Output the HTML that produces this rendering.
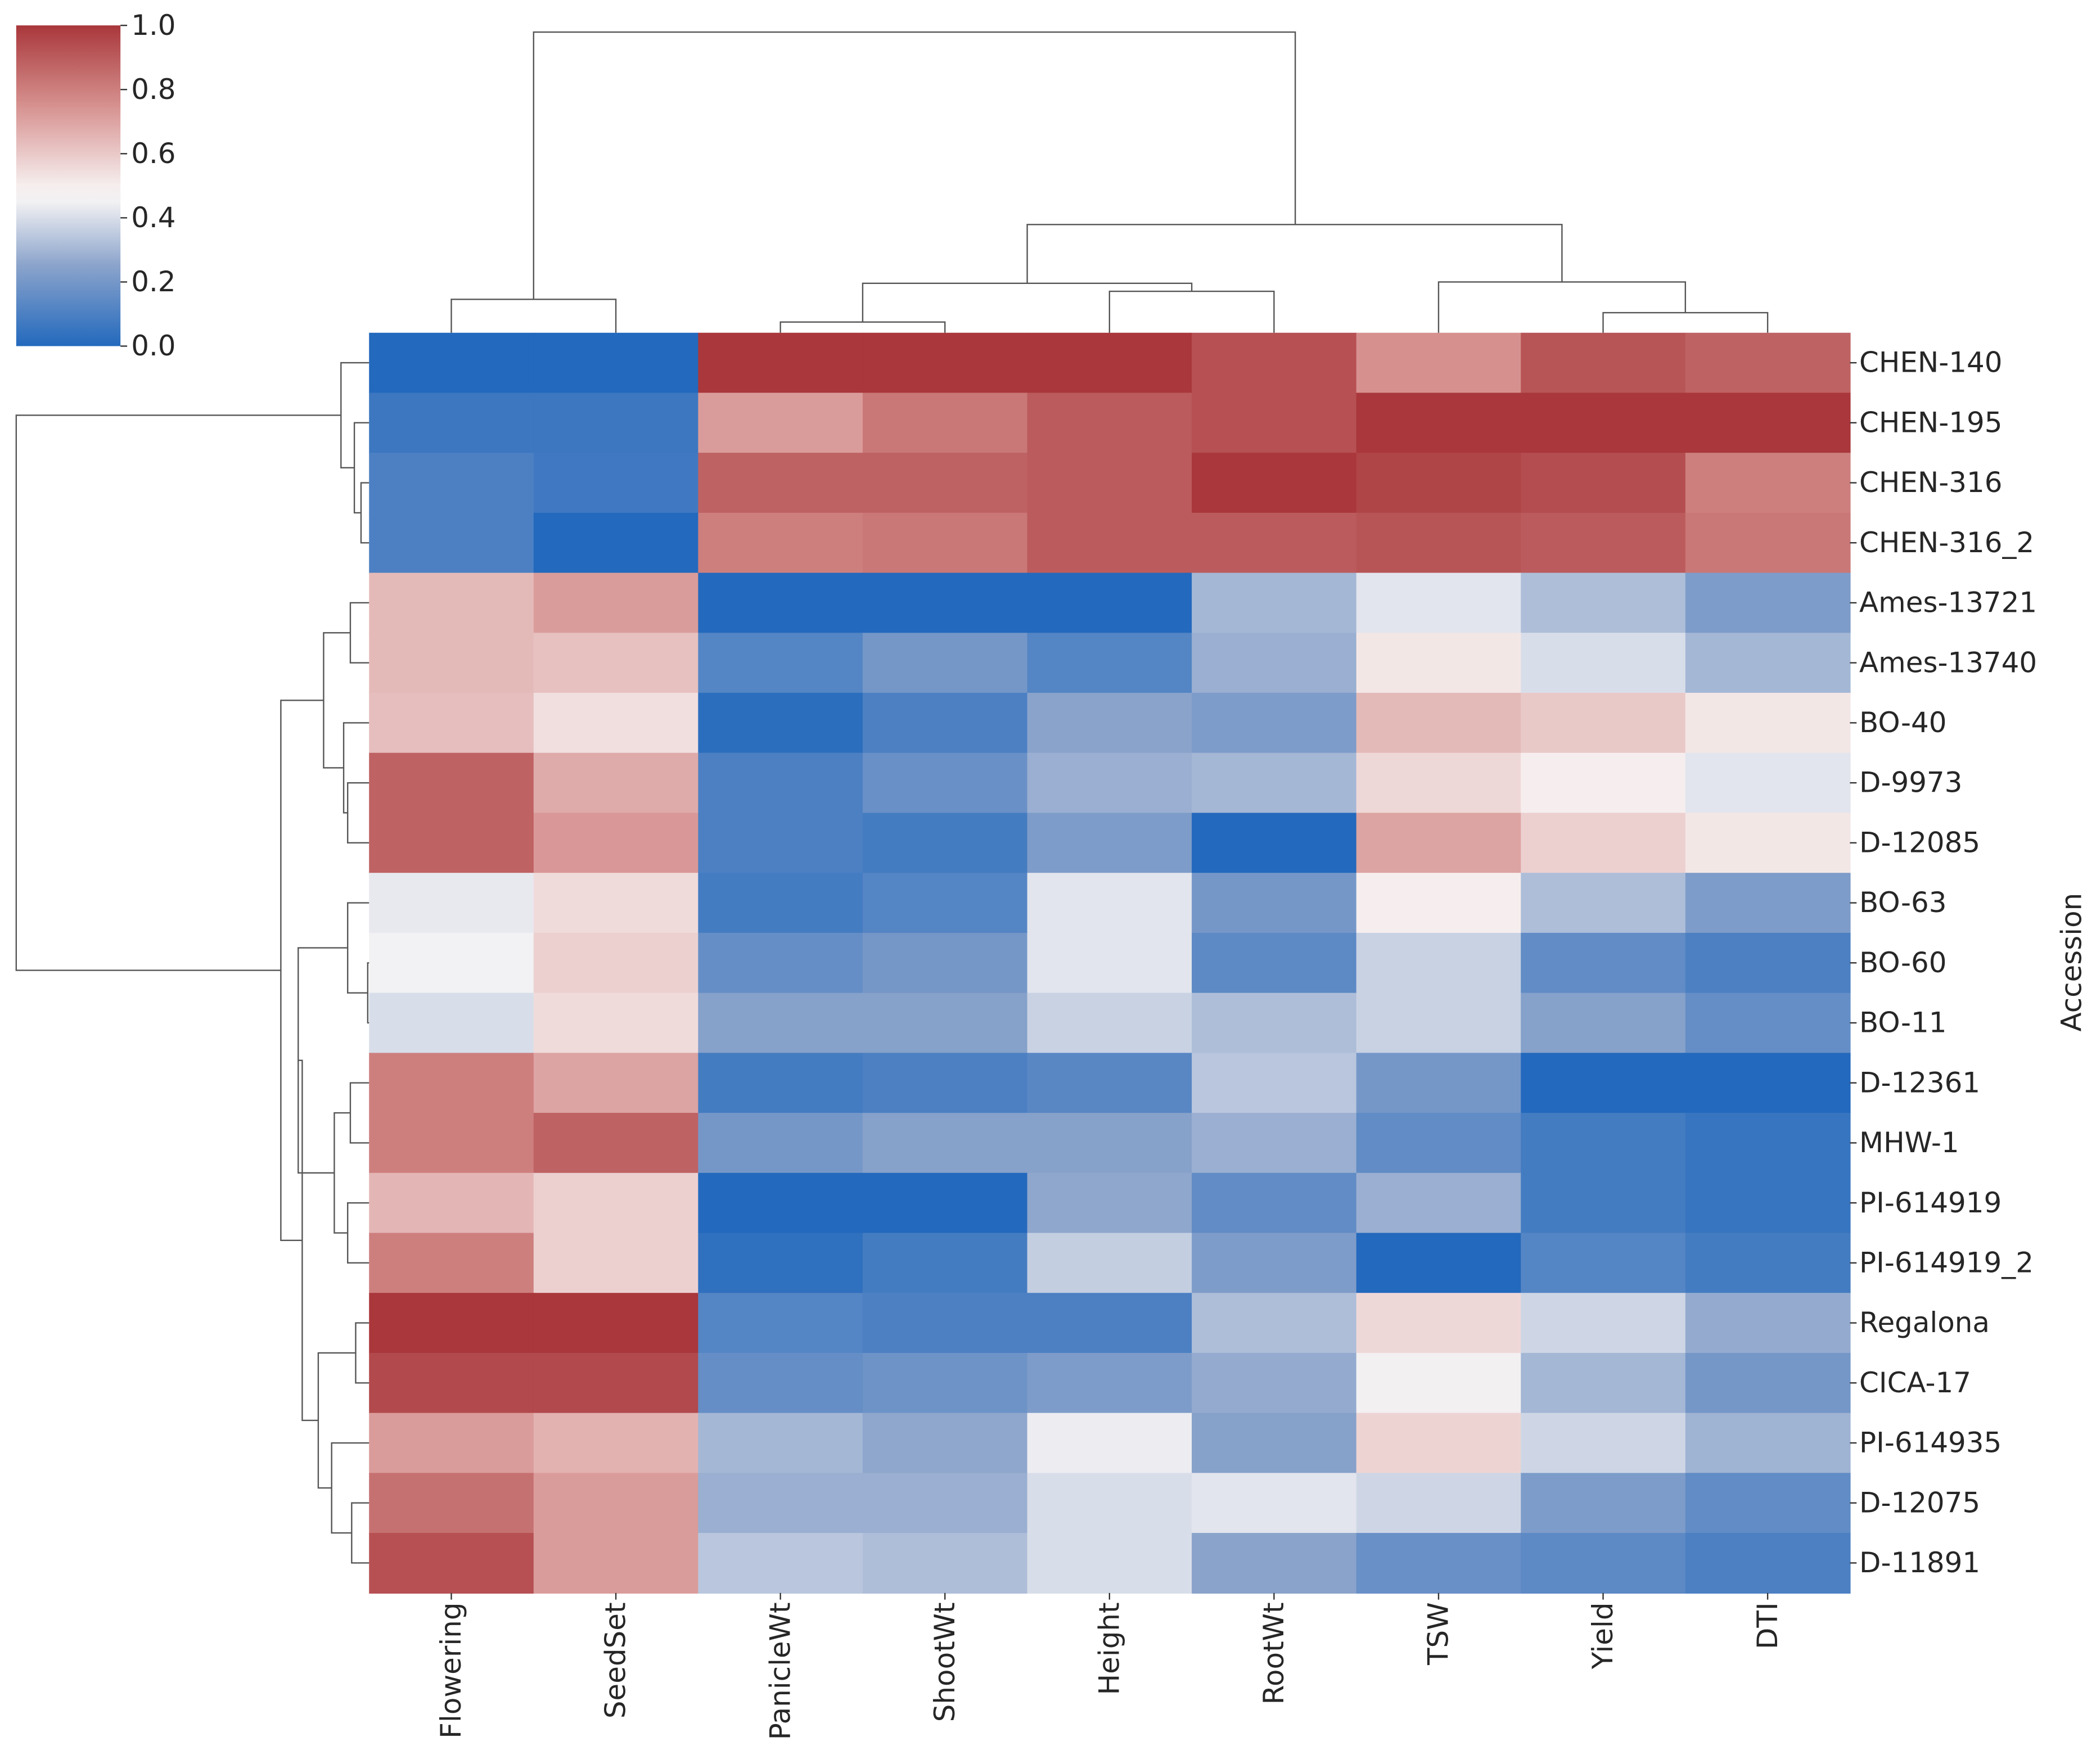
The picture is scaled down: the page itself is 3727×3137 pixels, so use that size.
<!DOCTYPE html>
<html><head><meta charset="utf-8"><style>
html,body{margin:0;padding:0;background:#fff;}
svg{display:block;}
text{font-family:"DejaVu Sans","Liberation Sans",sans-serif;fill:#262626;}
</style></head><body>
<svg id="chart" width="3727" height="3137" viewBox="0 0 1568 1320" xmlns="http://www.w3.org/2000/svg">
<defs>
<linearGradient id="cbgrad" x1="0" y1="1" x2="0" y2="0">
<stop offset="0" stop-color="#2369bd"/>
<stop offset="0.25" stop-color="#8aa3cb"/>
<stop offset="0.45" stop-color="#f2f1f3"/>
<stop offset="0.5" stop-color="#f6eeee"/>
<stop offset="0.75" stop-color="#d6918f"/>
<stop offset="1" stop-color="#a9373b"/>
</linearGradient>
</defs>
<g id="colorbar">
<rect x="12" y="19" width="78" height="240" fill="url(#cbgrad)"/>
</g>
<g id="heat"></g>
<g id="dendro-top" stroke="#555" stroke-width="1" fill="none"></g>
<g id="dendro-left" stroke="#555" stroke-width="1" fill="none"></g>
<g id="labels"></g>
<text x="1557" y="720" font-size="21" text-anchor="middle" transform="rotate(-90 1557 720)">Accession</text>
</svg>
<script>
const columns = ["Flowering","SeedSet","PanicleWt","ShootWt","Height","RootWt","TSW","Yield","DTI"];
const rows = ["CHEN-140","CHEN-195","CHEN-316","CHEN-316_2","Ames-13721","Ames-13740","BO-40","D-9973","D-12085","BO-63","BO-60","BO-11","D-12361","MHW-1","PI-614919","PI-614919_2","Regalona","CICA-17","PI-614935","D-12075","D-11891"];
const r00 = [0,0,1,1,1,0.93,0.75,0.92,0.88];
const r01 = [0.06,0.06,0.72,0.82,0.9,0.93,1,1,1];
const r02 = [0.1,0.07,0.88,0.88,0.9,1,0.96,0.94,0.8];
const r03 = [0.1,0,0.8,0.82,0.9,0.9,0.92,0.9,0.82];
const r04 = [0.64,0.72,0,0,0,0.3,0.42,0.32,0.22];
const r05 = [0.64,0.62,0.12,0.2,0.12,0.28,0.52,0.4,0.3];
const r06 = [0.63,0.54,0.02,0.1,0.25,0.22,0.64,0.6,0.52];
const r07 = [0.88,0.68,0.1,0.17,0.28,0.3,0.56,0.5,0.42];
const r08 = [0.88,0.73,0.1,0.08,0.22,0,0.7,0.58,0.52];
const r09 = [0.43,0.55,0.08,0.12,0.42,0.2,0.5,0.32,0.22];
const r10 = [0.45,0.58,0.16,0.2,0.42,0.14,0.37,0.15,0.1];
const r11 = [0.4,0.55,0.24,0.24,0.37,0.32,0.37,0.24,0.16];
const r12 = [0.8,0.7,0.08,0.1,0.13,0.34,0.2,0,0];
const r13 = [0.8,0.88,0.2,0.24,0.24,0.28,0.15,0.08,0.05];
const r14 = [0.65,0.58,0,0,0.26,0.15,0.28,0.08,0.05];
const r15 = [0.8,0.58,0.03,0.08,0.36,0.22,0,0.12,0.08];
const r16 = [1,1,0.12,0.1,0.1,0.32,0.56,0.38,0.27];
const r17 = [0.95,0.95,0.16,0.18,0.22,0.27,0.46,0.3,0.2];
const r18 = [0.72,0.66,0.3,0.26,0.44,0.24,0.57,0.38,0.29];
const r19 = [0.84,0.72,0.28,0.28,0.4,0.42,0.38,0.22,0.15];
const r20 = [0.93,0.72,0.34,0.32,0.4,0.25,0.17,0.14,0.1];
const values = [r00,r01,r02,r03,r04,r05,r06,r07,r08,r09,r10,r11,r12,r13,r14,r15,r16,r17,r18,r19,r20];
const cbTicks = [0,0.2,0.4,0.6,0.8,1.0];

const NS="http://www.w3.org/2000/svg";
const HX0=276,HX1=1384,HY0=249,HY1=1192;
const cw=(HX1-HX0)/columns.length, rh=(HY1-HY0)/rows.length;
const xCol=i=>HX0+i*cw, yRow=i=>HY0+i*rh;
const stops=[[0,[35,105,189]],[0.25,[138,163,203]],[0.45,[242,241,243]],[0.5,[246,238,238]],[0.75,[214,145,143]],[1,[169,55,59]]];
function color(v){v=Math.max(0,Math.min(1,v));for(let k=1;k<stops.length;k++){if(v<=stops[k][0]){const a=stops[k-1],b=stops[k];const t=(v-a[0])/(b[0]-a[0]);const c=a[1].map((x,j)=>Math.round(x+(b[1][j]-x)*t));return `rgb(${c})`;}}return 'rgb(169,55,59)';}
function mk(tag,attrs,parent){const e=document.createElementNS(NS,tag);for(const k in attrs)e.setAttribute(k,attrs[k]);parent.appendChild(e);return e;}
const heat=document.getElementById('heat'), lab=document.getElementById('labels'), cb=document.getElementById('colorbar');
values.forEach((row,i)=>row.forEach((v,j)=>{
  const r=mk('rect',{x:xCol(j),y:yRow(i),width:cw+0.5,height:rh+0.5,fill:color(v)},heat);
  
  
}));
rows.forEach((name,i)=>{
  const y=yRow(i)+rh/2;
  const tk=mk('line',{x1:HX1,x2:HX1+5,y1:y,y2:y,stroke:'#333','stroke-width':1},lab);
  
  
  const t=mk('text',{x:1391,y:y+7,'font-size':21},lab);
  t.textContent=name;
  
  
});
columns.forEach((name,j)=>{
  const x=xCol(j)+cw/2;
  const tk=mk('line',{x1:x,x2:x,y1:HY1,y2:HY1+5,stroke:'#333','stroke-width':1},lab);
  
  
  const t=mk('text',{x:x+7,y:1199,'font-size':21,'text-anchor':'end',transform:`rotate(-90 ${x+7} 1199)`},lab);
  t.textContent=name;
  
  
});
cbTicks.forEach(v=>{
  const y=259-v*240;
  const tk=mk('line',{x1:90,x2:95,y1:y,y2:y,stroke:'#333','stroke-width':1},cb);
  
  
  const t=mk('text',{x:98,y:y+7,'font-size':21},cb);
  t.textContent=v.toFixed(1);
  
  
});
// dendrograms
const dt=document.getElementById('dendro-top');
function ulink(g,a,ha,b,hb,h){mk('path',{d:`M${a},${ha}V${h}H${b}V${hb}`},g);}
const cx=j=>xCol(j)+cw/2, L=249;
[[cx(0),L,cx(1),L,224],[cx(2),L,cx(3),L,241],[cx(4),L,cx(5),L,218],
 [(cx(2)+cx(3))/2,241,(cx(4)+cx(5))/2,218,212],[cx(7),L,cx(8),L,234],
 [cx(6),L,(cx(7)+cx(8))/2,234,211],[(cx(2)+cx(5))/2,212,(cx(6)+(cx(7)+cx(8))/2)/2,211,168],
 [(cx(0)+cx(1))/2,224,969,168,24]].forEach(a=>ulink(dt,...a));
const dl=document.getElementById('dendro-left');
function llink(g,a,xa,b,xb,x){mk('path',{d:`M${xa},${a}H${x}V${b}H${xb}`},g);}
const ry=i=>yRow(i)+rh/2, R=276;
const m=(a,b)=>(a+b)/2;
const c23=m(ry(2),ry(3)), c123=m(ry(1),c23), c0123=m(ry(0),c123);
llink(dl,ry(2),R,ry(3),R,270);llink(dl,ry(1),R,c23,270,265);llink(dl,ry(0),R,c123,265,255);
const c45=m(ry(4),ry(5)), c78=m(ry(7),ry(8)), c678=m(ry(6),c78), c4_8=m(c45,c678);
llink(dl,ry(4),R,ry(5),R,262);llink(dl,ry(7),R,ry(8),R,260);llink(dl,ry(6),R,c78,260,257);llink(dl,c45,262,c678,257,242);
const c1011=m(ry(10),ry(11)), c9_11=m(ry(9),c1011);
llink(dl,ry(10),R,ry(11),R,275);llink(dl,ry(9),R,c1011,275,260);
const c1213=m(ry(12),ry(13)), c1415=m(ry(14),ry(15)), c12_15=m(c1213,c1415);
llink(dl,ry(12),R,ry(13),R,262);llink(dl,ry(14),R,ry(15),R,260);llink(dl,c1213,262,c1415,260,250);
const c9_15=m(c9_11,c12_15);llink(dl,c9_11,260,c12_15,250,223);
const c1617=m(ry(16),ry(17)), c1920=m(ry(19),ry(20)), c18_20=m(ry(18),c1920), c16_20=m(c1617,c18_20);
llink(dl,ry(16),R,ry(17),R,266);llink(dl,ry(19),R,ry(20),R,263);llink(dl,ry(18),R,c1920,263,248);llink(dl,c1617,266,c18_20,248,238);
const c9_20=m(c9_15,c16_20);llink(dl,c9_15,223,c16_20,238,226);
const c4_20=m(c4_8,c9_20);llink(dl,c4_8,242,c9_20,226,210);
llink(dl,c0123,255,c4_20,210,12);
</script>
</body></html>
